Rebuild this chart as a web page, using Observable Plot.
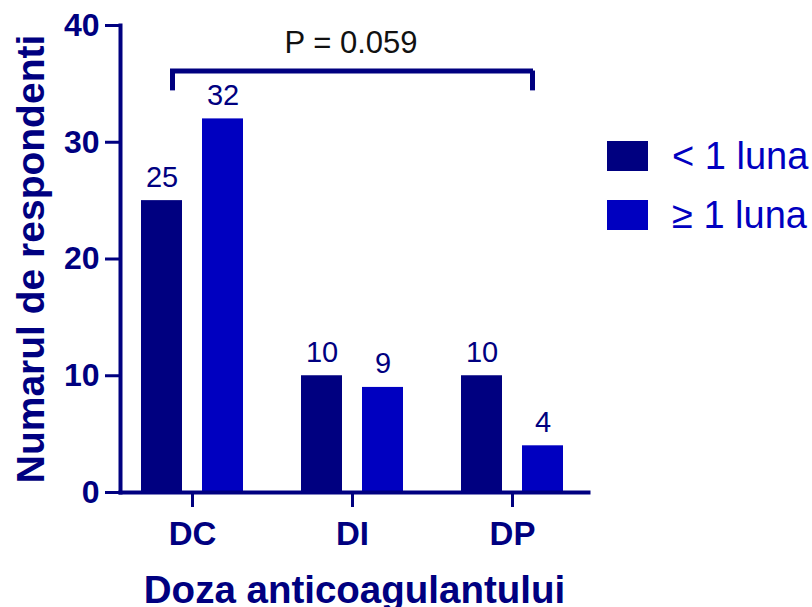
<!DOCTYPE html>
<html>
<head>
<meta charset="utf-8">
<script src="https://cdn.jsdelivr.net/npm/d3@7"></script>
<script src="https://cdn.jsdelivr.net/npm/@observablehq/plot@0.6"></script>
<style>
  html, body { margin: 0; padding: 0; background: #fff; }
  #wrap { position: relative; width: 812px; height: 607px; overflow: hidden; font-family: "Liberation Sans", Arial, sans-serif; }
  #legend { position: absolute; left: 607px; top: 141px; }
  .row { display: flex; align-items: flex-start; height: 59px; }
  .sw { width: 41px; height: 30px; }
  .lab { margin-left: 24px; font-size: 38px; line-height: 30px; color: #0000C0; white-space: nowrap; }
</style>
</head>
<body>
<div id="wrap"><div id="legend"></div></div>
<script>
// ---- data ----
const categories = ["DC", "DI", "DP"];
const seriesNames = ["< 1 luna", "\u2265 1 luna"];
const lessThanOneMonth = [25, 10, 10];
const atLeastOneMonth = [32, 9, 4];
const yTicks = [0, 10, 20, 30, 40];
const xTitle = "Doza anticoagulantului";
const yTitle = "Numarul de respondenti";
const pLabel = "P = 0.059";
const bracketFrom = "DC";
const bracketTo = "DP";
const bracketTop = 36.1;
const bracketBottom = 34.4;

// ---- styles ----
const navy = "#000080";
const blue = "#0000C0";
const colors = [navy, blue];

const rowsA = categories.map((c, i) => ({cat: c, value: lessThanOneMonth[i]}));
const rowsB = categories.map((c, i) => ({cat: c, value: atLeastOneMonth[i]}));

const chart = Plot.plot({
  width: 812,
  height: 607,
  marginLeft: 120,
  marginRight: 224,
  marginTop: 25,
  marginBottom: 115,
  style: {fontFamily: "'Liberation Sans', Arial, sans-serif", color: navy, background: "#fff", overflow: "visible"},
  x: {domain: categories, paddingInner: 0.36, paddingOuter: 0.1335, align: 0.465, label: null},
  y: {domain: [0, 40], label: null},
  marks: [
    Plot.barY(rowsA, {x: "cat", y: "value", fill: colors[0], insetRight: 61}),
    Plot.barY(rowsB, {x: "cat", y: "value", fill: colors[1], insetLeft: 61}),
    Plot.text(rowsA, {x: "cat", y: "value", text: d => String(d.value), dx: -30.5, dy: -14, lineAnchor: "bottom", fontSize: 29, fill: navy}),
    Plot.text(rowsB, {x: "cat", y: "value", text: d => String(d.value), dx: 30.5, dy: -14, lineAnchor: "bottom", fontSize: 29, fill: navy}),
    // significance bracket
    Plot.ruleY([bracketTop], {x1: () => bracketFrom, x2: () => bracketTo, insetLeft: 29, insetRight: 30, stroke: navy, strokeWidth: 5}),
    Plot.ruleX([bracketFrom], {x: d => d, y1: bracketBottom, y2: bracketTop, dx: -20, stroke: navy, strokeWidth: 5}),
    Plot.ruleX([bracketTo], {x: d => d, y1: bracketBottom, y2: bracketTop, dx: 20, stroke: navy, strokeWidth: 5}),
    Plot.text([pLabel], {x: () => "DI", y: () => bracketTop, text: d => d, dy: -18.5, dx: -1.5, lineAnchor: "bottom", fontSize: 31, fill: "#111"}),
    // axes
    Plot.axisY({ticks: yTicks, tickSize: 15, tickPadding: 6, fontSize: 32, fontWeight: "bold", strokeWidth: 3, stroke: navy, fill: navy, label: null}),
    Plot.axisX({tickSize: 15, tickPadding: 14, fontSize: 33, fontWeight: "bold", strokeWidth: 3, stroke: navy, fill: navy, label: null}),
    Plot.frame({anchor: "left", stroke: navy, strokeWidth: 4}),
    Plot.frame({anchor: "bottom", stroke: navy, strokeWidth: 4}),
    // titles
    Plot.text([yTitle], {frameAnchor: "left", textAnchor: "middle", dx: -89, rotate: -90, fontSize: 39, fontWeight: "bold", fill: navy}),
    Plot.text([xTitle], {frameAnchor: "bottom", dy: 110, lineAnchor: "bottom", fontSize: 38.5, fontWeight: "bold", fill: navy})
  ]
});

const wrap = document.getElementById("wrap");
wrap.insertBefore(chart, wrap.firstChild);

const legend = document.getElementById("legend");
seriesNames.forEach((name, i) => {
  const row = document.createElement("div");
  row.className = "row";
  const sw = document.createElement("div");
  sw.className = "sw";
  sw.style.background = colors[i];
  const lab = document.createElement("div");
  lab.className = "lab";
  lab.textContent = name;
  row.appendChild(sw);
  row.appendChild(lab);
  legend.appendChild(row);
});
</script>
</body>
</html>
